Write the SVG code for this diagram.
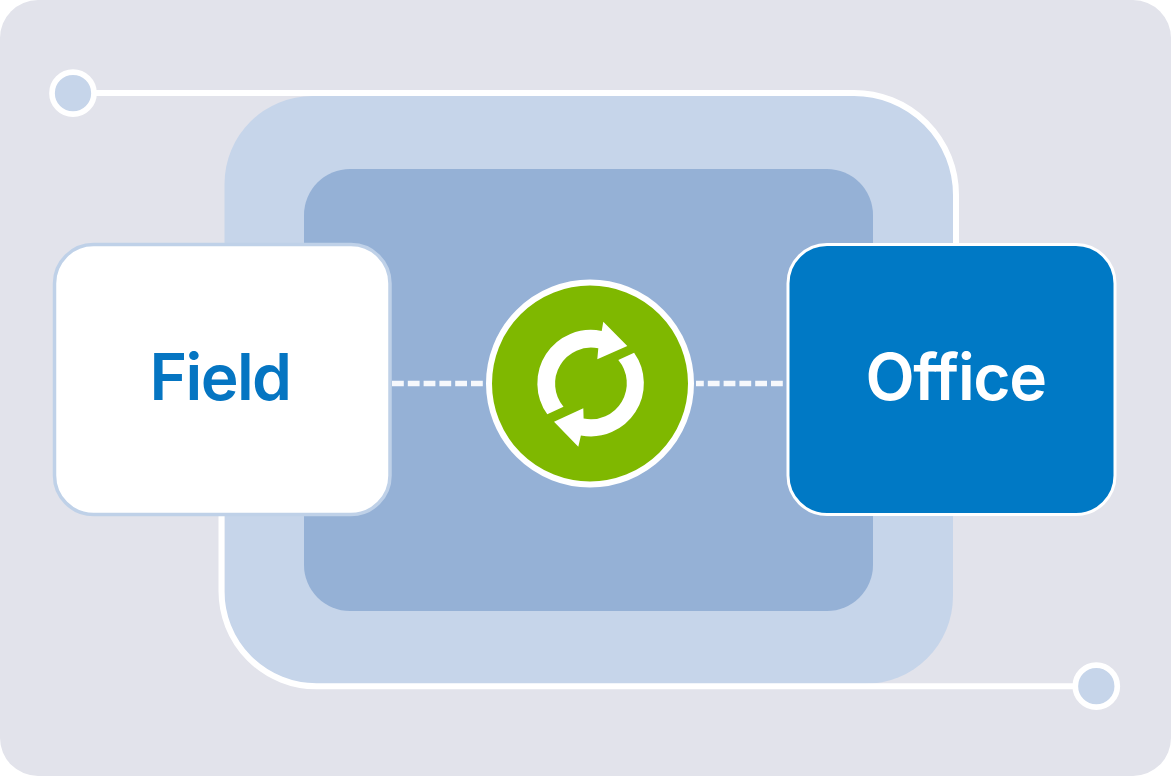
<svg xmlns="http://www.w3.org/2000/svg" width="1171" height="776" viewBox="0 0 1171 776">
<style>
.wire{fill:none;stroke:#fff;stroke-width:6}
.dash{fill:none;stroke:#f6f8fc;stroke-width:5.500;stroke-dasharray:11.800 4}
.dot{fill:#c6d5ea;stroke:#fff;stroke-width:5.700}
.label{font-family:Inter,"Liberation Sans",sans-serif;font-weight:600;font-size:64px;text-anchor:middle}
</style>
<rect width="1171" height="776" fill="#fff"/>
<rect width="1171" height="776" rx="38" fill="#e2e3eb"/>
<rect id="outer-panel" x="224.500" y="96" width="728.500" height="588" rx="88" fill="#c6d5ea"/>
<rect id="inner-panel" x="304" y="169" width="569" height="442" rx="46" fill="#95b1d6"/>
<g id="connectors">
<path class="wire" d="M95 93H854A102 102 0 0 1 956 195V250"/>
<path class="wire" d="M221.500 510V591A95 95 0 0 0 316.500 686.300H1075"/>
<path class="dash" d="M392 383.500H486"/>
<path class="dash" d="M696 383.500H786" stroke-dashoffset="4"/>
</g>
<g id="start-dot"><circle class="dot" cx="73" cy="93.200" r="21"/></g>
<g id="end-dot"><circle class="dot" cx="1096.300" cy="686.200" r="21"/></g>
<g id="field">
<rect x="54.500" y="244.500" width="335.500" height="270" rx="39" fill="#fff" stroke="#bfd1e8" stroke-width="3.500"/>
<text class="label" x="220" y="399.500" fill="#0575c2" letter-spacing="-1.600">Field</text>
</g>
<g id="office">
<rect x="788" y="244.500" width="327" height="270" rx="39" fill="#0079c5" stroke="#fff" stroke-width="3"/>
<text class="label" x="955.500" y="399.500" fill="#fff" letter-spacing="-1.400">Office</text>
</g>
<g id="sync">
<circle cx="590" cy="383.500" r="101" fill="#7fb800" stroke="#fff" stroke-width="6"/>
<path fill="#fff" d="M547.300 414.300A53.400 53.400 0 0 1 601.700 331L603.300 321.700L627.300 346L597.300 359.300L598.300 348.300A36 36 0 0 0 563.500 406.700Z"/>
<path fill="#fff" d="M634.100 352.700A53 53 0 0 1 580.900 435.400L578.300 446.700L554 421.700L583.300 408.300L583.600 418.600A36 36 0 0 0 618.300 360.100Z"/>
</g>
</svg>
